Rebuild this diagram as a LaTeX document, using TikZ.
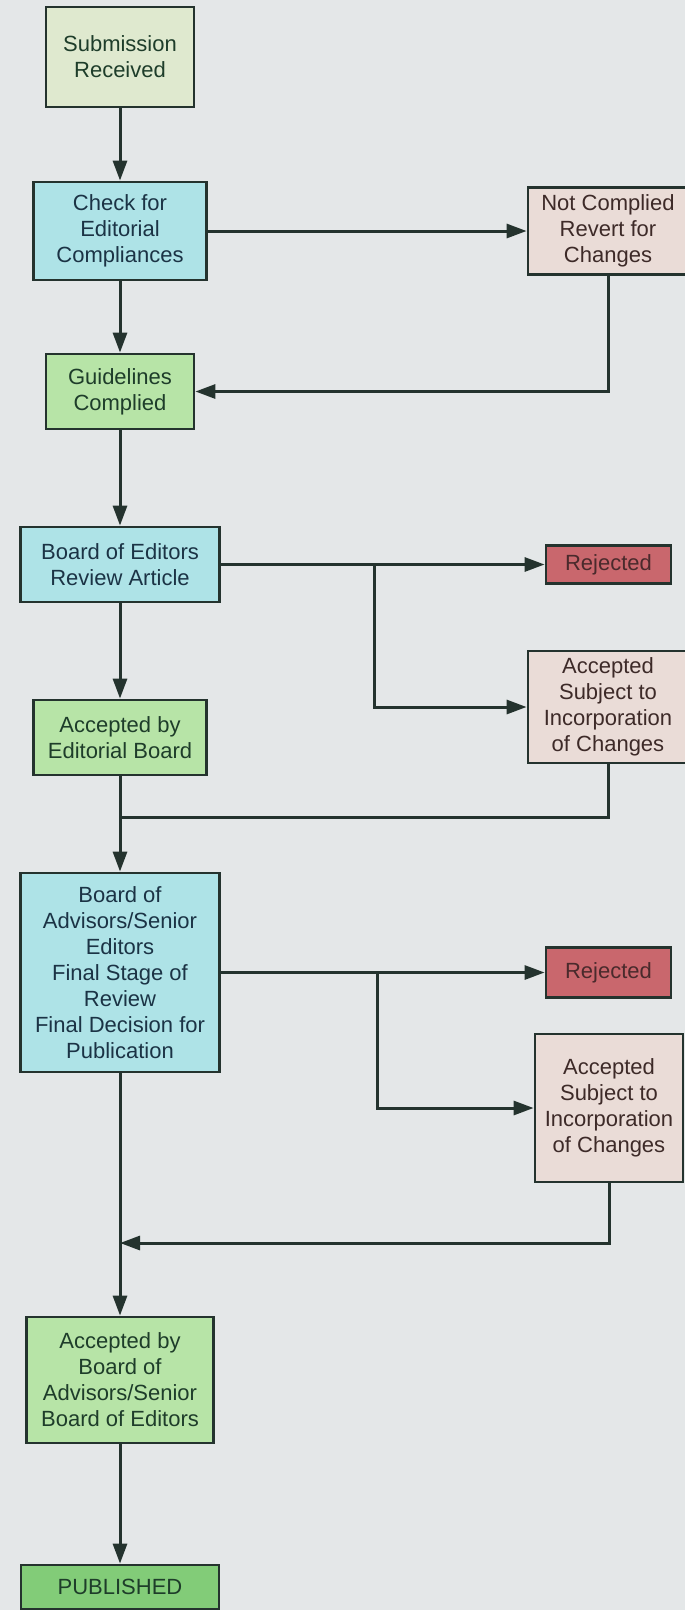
\documentclass[tikz,border=0pt]{standalone}
\usepackage{fontspec}
\setmainfont{Liberation Sans}
\usetikzlibrary{arrows.meta}
\definecolor{bg}{HTML}{E4E7E8}
\definecolor{lineC}{HTML}{24332E}
\definecolor{subF}{HTML}{DFE9CF}
\definecolor{cyanF}{HTML}{AEE3E7}
\definecolor{paleF}{HTML}{EADCD7}
\definecolor{greenF}{HTML}{B7E4A7}
\definecolor{rejF}{HTML}{C9676D}
\definecolor{pubF}{HTML}{82CC78}
\definecolor{greenT}{HTML}{1E3D2A}
\definecolor{cyanT}{HTML}{1B3345}
\definecolor{paleT}{HTML}{3D2A28}
\definecolor{rejT}{HTML}{4A2A2C}
\tikzset{
  boxbase/.style={draw=lineC, line width=2.8pt, rectangle, inner sep=0pt, align=center,
    font=\fontsize{22}{26}\selectfont},
  subbox/.style={boxbase, fill=subF, text=greenT},
  cyanbox/.style={boxbase, fill=cyanF, text=cyanT},
  palebox/.style={boxbase, fill=paleF, text=paleT},
  greenbox/.style={boxbase, fill=greenF, text=greenT},
  rejbox/.style={boxbase, fill=rejF, text=rejT},
  pubbox/.style={boxbase, fill=pubF, text=greenT},
  conn/.style={draw=lineC, line width=3pt},
  arr/.style={conn, -{Triangle[length=20pt,width=14pt]}},
}
\begin{document}
\begin{tikzpicture}[x=1pt,y=-1pt]
\fill[bg] (0,0) rectangle (685,1610);
\useasboundingbox (0,0) rectangle (685,1610);

\node[subbox, minimum width=148pt, minimum height=100pt] (sub) at (120,57) {Submission\\Received};
\node[cyanbox, minimum width=173pt, minimum height=98pt] (chk) at (120,231) {Check for\\Editorial\\Compliances};
\node[palebox, minimum width=160pt, minimum height=87pt] (notc) at (608,231) {Not Complied\\Revert for\\Changes};
\node[greenbox, minimum width=148pt, minimum height=75pt] (guide) at (120,391.5) {Guidelines\\Complied};
\node[cyanbox, minimum width=199pt, minimum height=75pt] (boe) at (120,564.5) {Board of Editors\\Review Article};
\node[rejbox, minimum width=125pt, minimum height=38pt] (rej1) at (608.5,564.5) {Rejected};
\node[palebox, minimum width=160pt, minimum height=112pt] (acs1) at (608,707) {Accepted\\Subject to\\Incorporation\\of Changes};
\node[greenbox, minimum width=173pt, minimum height=75pt] (aeb) at (120,737.5) {Accepted by\\Editorial Board};
\node[cyanbox, minimum width=199pt, minimum height=199pt] (boa) at (120,972.5) {Board of\\Advisors/Senior\\Editors\\Final Stage of\\Review\\Final Decision for\\Publication};
\node[rejbox, minimum width=125pt, minimum height=50pt] (rej2) at (608.5,972.5) {Rejected};
\node[palebox, minimum width=148pt, minimum height=148pt] (acs2) at (609,1108) {Accepted\\Subject to\\Incorporation\\of Changes};
\node[greenbox, minimum width=187pt, minimum height=126pt] (abb) at (120,1380) {Accepted by\\Board of\\Advisors/Senior\\Board of Editors};
\node[pubbox, minimum width=198pt, minimum height=44pt] (pub) at (120,1587) {PUBLISHED};

\coordinate (b1) at (374,564.5);
\coordinate (m1) at (120,817);
\coordinate (b2) at (377,972.5);
\coordinate (m2) at (120,1243);

\draw[arr] (sub) -- (chk);
\draw[arr] (chk) -- (notc);
\draw[arr] (chk) -- (guide);
\draw[arr] (notc.south) |- (guide.east);
\draw[arr] (guide) -- (boe);
\draw[arr] (boe) -- (rej1);
\draw[arr] (b1) |- (acs1.west);
\draw[arr] (boe) -- (aeb);
\draw[arr] (aeb) -- (boa);
\draw[conn] (acs1.south) |- (m1);
\draw[arr] (boa) -- (rej2);
\draw[arr] (b2) |- (acs2.west);
\draw[arr] (boa) -- (abb);
\draw[arr] (acs2.south) |- (m2);
\draw[arr] (abb) -- (pub);
\end{tikzpicture}
\end{document}
